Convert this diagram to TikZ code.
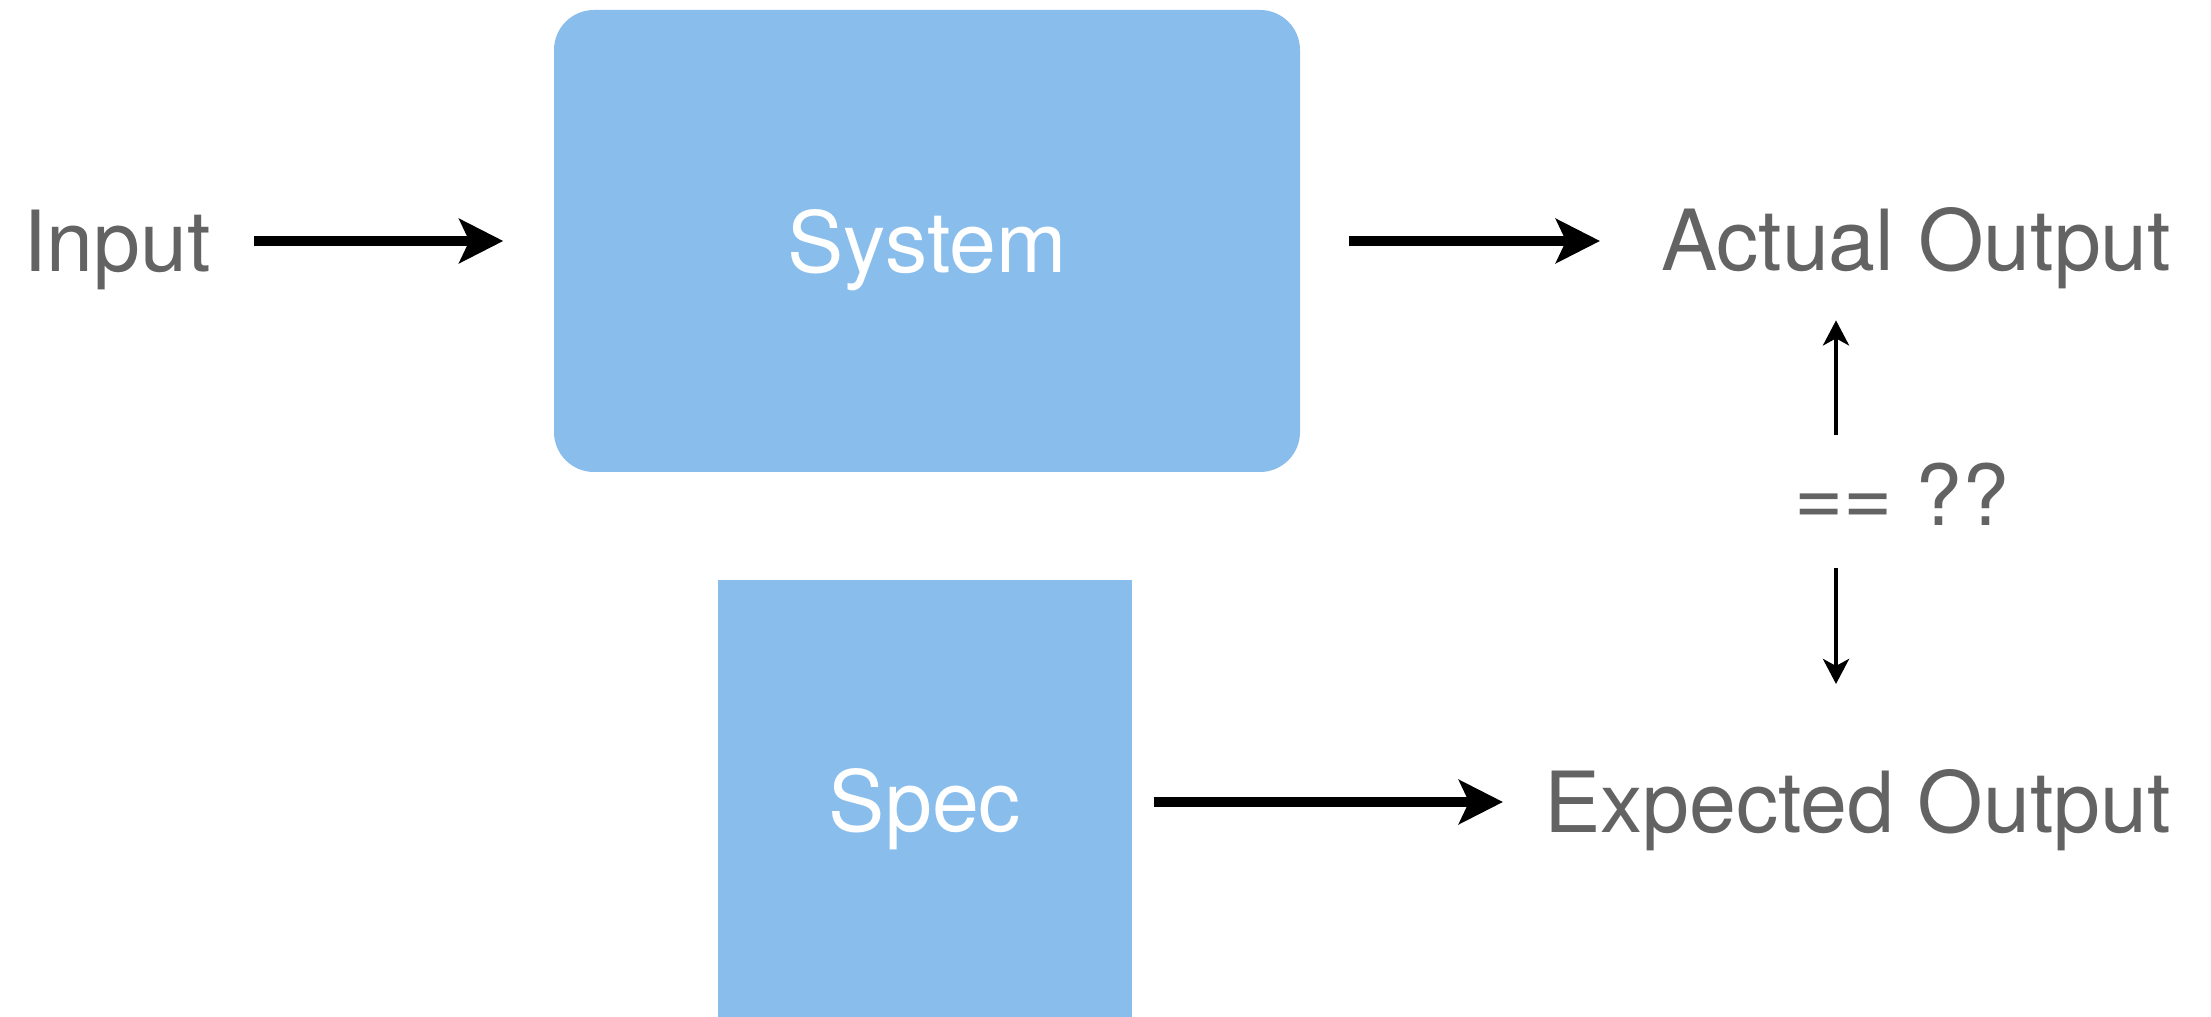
\documentclass[tikz,border=0pt]{standalone}
\usepackage{fontspec}
\setmainfont{TeX Gyre Heros}
\usetikzlibrary{arrows.meta}
\definecolor{boxblue}{HTML}{89BDEB}
\definecolor{labelgray}{HTML}{636363}
\tikzset{
  lbl/.style={inner sep=0pt, outer sep=0pt, anchor=base west, text=labelgray, font=\fontsize{24}{28}\selectfont},
  block/.style={fill=boxblue, draw=none, text=white, inner sep=0pt, text depth=0pt, font=\fontsize{24}{28}\selectfont},
  bigarrow/.style={line width=0.1cm, -{Stealth[length=0.44cm, width=0.44cm, inset=0.1cm]}},
  thinarrow/.style={line width=0.045cm, -{Stealth[length=0.25cm, width=0.26cm, inset=0.07cm]}}
}
\begin{document}
\begin{tikzpicture}
\useasboundingbox[fill=white] (0,0) rectangle (22.11,-10.17);

% blocks
\node[block, rounded corners=0.4cm, minimum width=7.46cm, minimum height=4.62cm] (system) at (9.27,-2.41) {System};
\node[block, minimum width=4.14cm, minimum height=4.4cm] (spec) at (9.25,-8.00) {Spec};

% labels
\node[lbl] (input) at (0.23,-2.72) {Input};
\node[lbl] (actual) at (16.61,-2.71) {Actual Output};
\node[lbl] (expected) at (15.44,-8.32) {Expected Output};
\node[lbl] (eq) at (17.94,-5.26) {== ??};
\coordinate (cmp) at (18.36,-4.9);

% flow arrows
\draw[bigarrow, shorten <=0.43cm, shorten >=0.5cm] (input.east |- system.west) -- (system.west);
\draw[bigarrow, shorten <=0.48cm, shorten >=0.61cm] (system.east) -- (actual.west |- system.east);
\draw[bigarrow, shorten <=0.21cm, shorten >=0.41cm] (spec.east |- 0,-8.02) -- (expected.west |- 0,-8.02);

% comparison arrows
\draw[thinarrow, shorten <=0.28cm, shorten >=0.31cm] (eq.north -| cmp) -- (actual.south -| cmp);
\draw[thinarrow, shorten <=0.42cm, shorten >=0.85cm] (eq.south -| cmp) -- (expected.north -| cmp);
\end{tikzpicture}
\end{document}
